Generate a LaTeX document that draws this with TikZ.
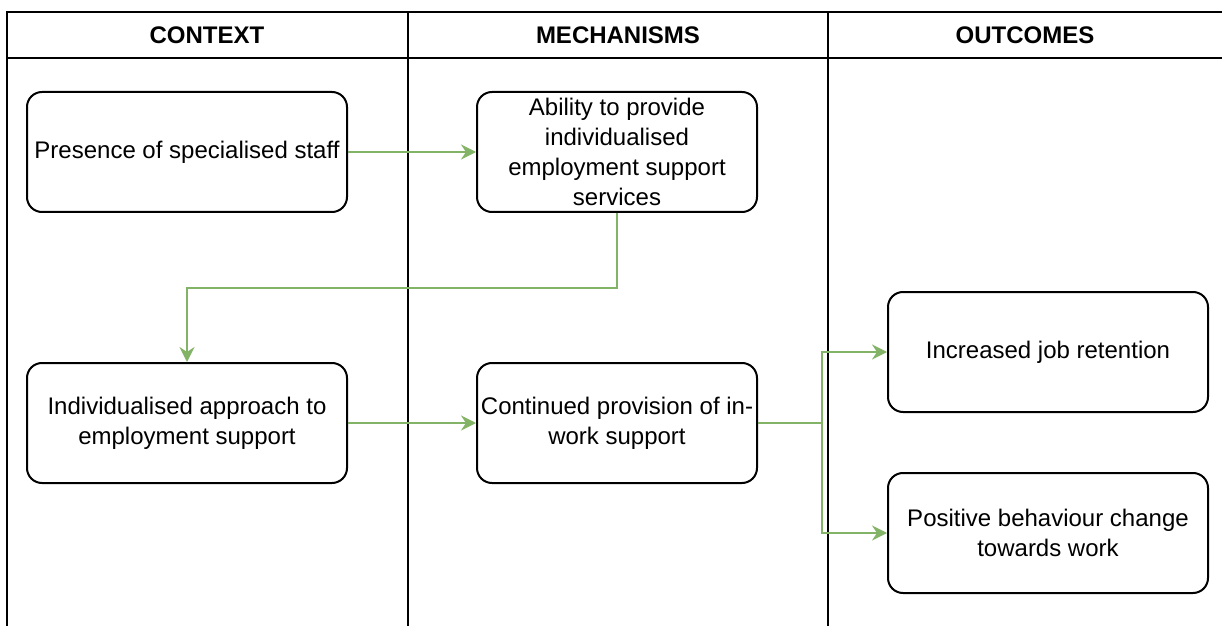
\documentclass[tikz,border=0pt]{standalone}
\usepackage{fontspec}
\setmainfont{Liberation Sans}
\usetikzlibrary{arrows.meta}
\definecolor{flowgreen}{HTML}{82B366}
\begin{document}
\begin{tikzpicture}[x=0.5pt,y=-0.5pt]
    \tikzset{% This is the style settings for nodes
    box/.style={draw=black,line width=1pt,rounded corners=7.5pt,fill=white,align=center,
        minimum width=160pt,minimum height=60pt,font=\fontsize{12}{15}\selectfont,inner sep=0pt},
    wbox/.style={box,minimum width=140pt},
    head/.style={font=\bfseries\fontsize{12}{15}\selectfont},
    grid/.style={line width=1pt},
    c1/.style={flowgreen,line width=1pt,-{Stealth[length=7.5pt,width=7.5pt,inset=2.5pt]}},
    c2/.style={flowgreen,line width=1pt},
    }
    \useasboundingbox (0,0) rectangle (1222,626);
    % Table
    \draw[grid] (7,626) -- (7,12) -- (1222,12);
    \draw[grid] (7,58) -- (1222,58);
    \draw[grid] (408,12) -- (408,626);
    \draw[grid] (828,12) -- (828,626);
    \node[head] (hctx) at (207,35) {CONTEXT};
    \node[head] (hmech) at (618,35) {MECHANISMS};
    \node[head] (hout) at (1025,35) {OUTCOMES};

    % Nodes
    \node[box] (staff) at (187,152) {Presence of specialised staff};
    \node[wbox] (ability) at (617,152) {Ability to provide\\individualised\\employment support\\services};
    \node[box] (approach) at (187,423) {Individualised approach to\\employment support};
    \node[wbox] (inwork) at (617,423) {Continued provision of in-\\work support};
    \node[box] (retention) at (1048,352) {Increased job retention};
    \node[box] (behaviour) at (1048,533) {Positive behaviour change\\towards work};
    \coordinate (split) at (822,423);

    %Edges
    \draw[c1] (staff) -- (ability);
    \draw[c1] (ability.south) -- ++(0,75) -| (approach.north);
    \draw[c1] (approach) -- (inwork);
    \draw[c2] (inwork.east) -- (split);
    \draw[c1] (split) |- (retention.west);
    \draw[c1] (split) |- (behaviour.west);

\end{tikzpicture}
\end{document}
